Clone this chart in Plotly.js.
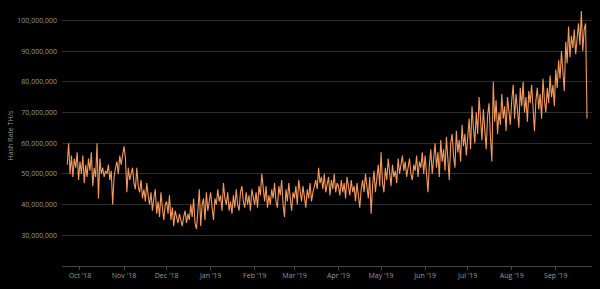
<!DOCTYPE html>
<html>
<head>
<meta charset="utf-8">
<script src="https://cdn.plot.ly/plotly-3.0.1.min.js"></script>
<style>
  html, body { margin: 0; padding: 0; background: #000; }
  #chart { width: 600px; height: 289px; }
</style>
</head>
<body>
<div id="chart"></div>
<script>
// Daily hash rate (millions of TH/s), starting 2018-09-22
const startDate = '2018-09-22';
const hashRateM = [
  // Sep 2018 (22-30)
  53,60,50,56,49,55,52,57,48,
  // Oct 2018
  54,50,56,47,53,49,55,51,57,46,52,49,60,42,55,50,52,49,51,50,53,48,51,40,49,52,54,50,56,53,57,
  // Nov 2018
  59,55,44,52,48,50,52,47,45,52,46,44,48,42,45,41,47,43,40,44,38,42,45,37,41,36,44,39,35,40,
  // Dec 2018
  41,37,43,35,39,33,38,36,34,37,35,33,36,38,34,37,35,40,36,42,34,32,38,45,33,40,42,35,44,38,41,
  // Jan 2019
  44,39,35,42,40,45,41,43,38,47,42,40,44,38,41,37,43,39,45,40,38,44,46,41,39,44,40,43,38,45,42,
  // Feb 2019
  40,44,39,46,43,50,44,41,46,39,43,40,45,42,47,41,39,46,43,48,40,36,45,41,47,43,38,44,
  // Mar 2019
  42,46,40,48,44,41,46,43,39,45,42,47,41,44,46,48,45,52,47,49,45,50,44,47,49,43,48,45,50,44,47,
  // Apr 2019
  46,43,48,44,47,42,49,45,43,48,44,46,41,47,43,39,45,48,44,50,46,42,49,37,46,51,44,48,53,46,
  // May 2019
  57,47,44,52,48,55,50,46,53,49,51,47,55,50,53,56,51,54,49,52,55,50,48,53,51,56,49,54,52,57,50,
  // Jun 2019
  56,48,44,53,58,50,55,60,52,57,49,61,54,58,51,62,55,48,60,63,56,52,64,57,61,54,66,59,63,56,
  // Jul 2019
  62,68,58,72,65,60,70,63,75,66,61,71,64,58,69,73,62,54,80,67,74,63,70,66,76,68,72,64,75,70,66,
  // Aug 2019
  74,79,68,76,71,65,78,72,80,70,75,67,77,73,79,69,64,74,78,71,76,68,81,74,70,78,73,82,75,79,72,
  // Sep 2019 (1-23)
  84,78,87,81,90,84,77,93,86,98,88,95,91,97,89,94,99,92,103,90,97,99,68
];
const yTickVals = [30e6, 40e6, 50e6, 60e6, 70e6, 80e6, 90e6, 100e6];
const xTickVals = ['2018-10-01','2018-11-01','2018-12-01','2019-01-01','2019-02-01','2019-03-01',
                   '2019-04-01','2019-05-01','2019-06-01','2019-07-01','2019-08-01','2019-09-01'];
const yTitle = 'Hash Rate TH/s';

const dates = [];
{
  const d0 = new Date(startDate + 'T00:00:00Z');
  for (let i = 0; i < hashRateM.length; i++) {
    const d = new Date(d0.getTime() + i * 86400000);
    dates.push(d.toISOString().slice(0, 10));
  }
}
const values = hashRateM.map(v => v * 1e6);

const trace = {
  x: dates,
  y: values,
  type: 'scatter',
  mode: 'lines',
  line: { color: '#f49a5c', width: 1.1 },
  hoverinfo: 'x+y'
};

const layout = {
  width: 600,
  height: 289,
  paper_bgcolor: '#000',
  plot_bgcolor: '#000',
  margin: { l: 62, r: 8, t: 5, b: 23 },
  showlegend: false,
  font: { family: 'Open Sans, DejaVu Sans, sans-serif', color: '#9a9a9a', size: 7 },
  xaxis: {
    type: 'date',
    range: ['2018-09-18 08:00', '2019-09-26 12:00'],
    tickvals: xTickVals,
    tickformat: "%b '%y",
    showgrid: false,
    zeroline: false,
    showline: true,
    linecolor: '#444',
    linewidth: 1,
    ticks: 'outside',
    ticklen: 3,
    tickcolor: '#444',
    tickfont: { size: 7, color: '#9a9a9a' }
  },
  yaxis: {
    range: [20e6, 105e6],
    tickvals: yTickVals,
    tickformat: ',d',
    showgrid: true,
    gridcolor: '#2c2c2c',
    gridwidth: 1,
    zeroline: false,
    showline: false,
    ticks: '',
    ticklabelstandoff: 4,
    tickfont: { size: 7, color: '#9a9a9a' },
    title: { text: yTitle, font: { size: 7, color: '#9a9a9a' }, standoff: 2 }
  }
};

Plotly.newPlot('chart', [trace], layout, { displayModeBar: false, staticPlot: true });
</script>
</body>
</html>
